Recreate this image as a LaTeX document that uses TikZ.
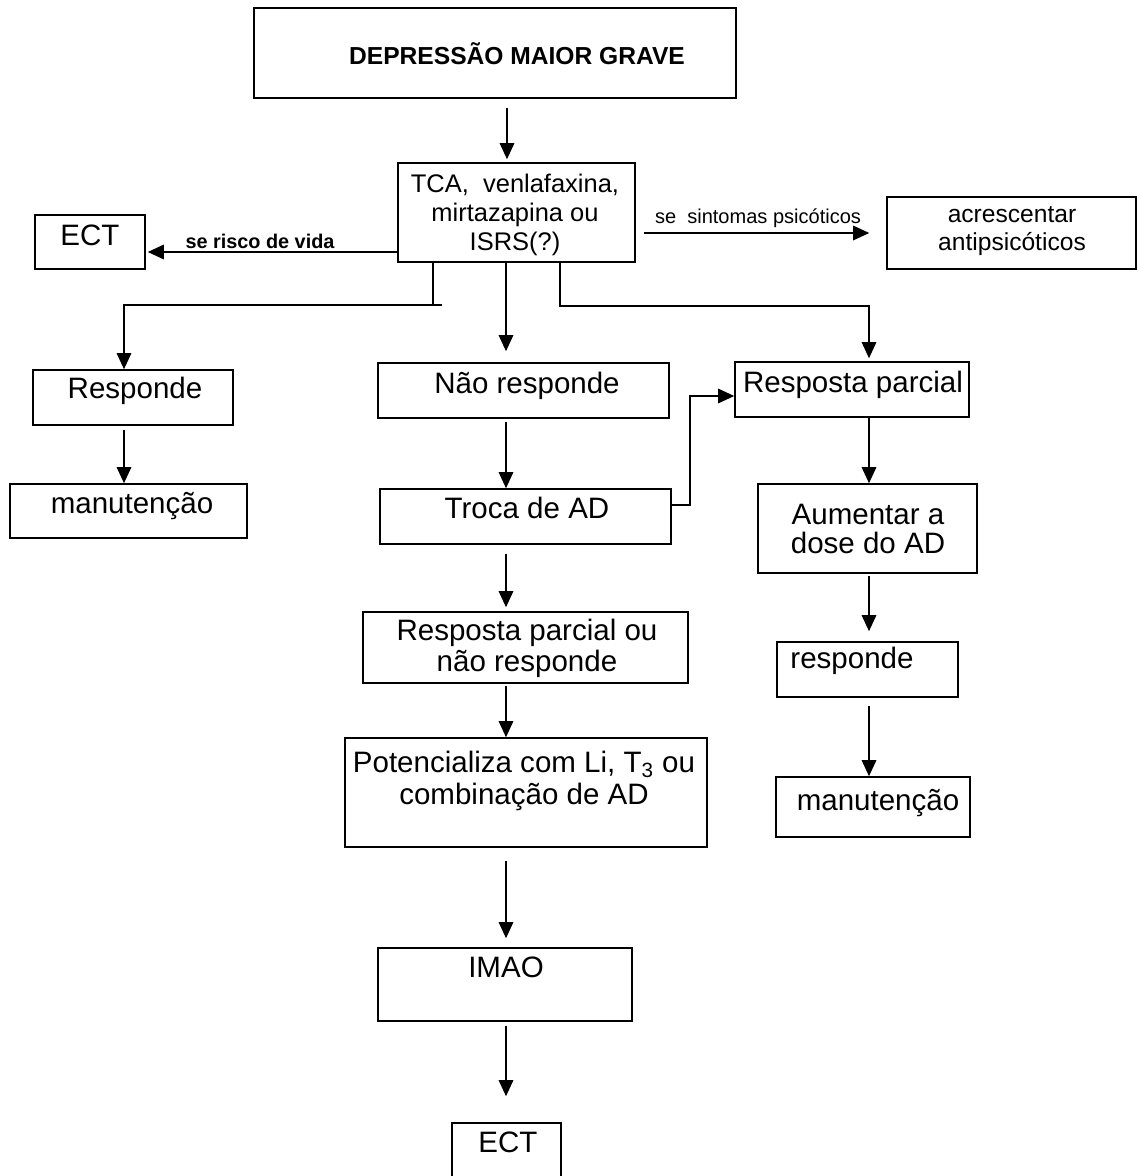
\documentclass[tikz,border=0pt]{standalone}
\usepackage{fontspec}
\setmainfont{Liberation Sans}
\usetikzlibrary{arrows.meta,fit}

\begin{document}
\begin{tikzpicture}[x=0.02cm, y=-0.02cm,
  box/.style={draw, line width=0.9pt, inner sep=0pt},
  txt/.style={inner sep=0pt, align=center, font=\fontsize{16.8}{17.8}\selectfont},
  lin/.style={line width=0.8pt},
  arr/.style={line width=0.8pt, -{Triangle[length=0.32cm,width=0.29cm]}}]

  % Page frame (pixel units, y downwards)
  \useasboundingbox (0,0) rectangle (1138,1176);
  \clip (0,0) rectangle (1138,1176);

  % Define the boxes by their corners
  \foreach \nm/\xo/\yo/\xe/\ye in {
      top/254/8/736/98, tca/398/163/635/262, ectl/35/215/145/269,
      acr/887/197/1136/269, resp/33/370/233/425, manl/10/484/247/538,
      nao/378/363/669/418, rp/735/362/969/417, troca/380/489/671/544,
      aum/758/484/977/573, resp2/777/642/958/697, manr/776/777/970/837,
      rpn/363/612/688/683, pot/345/738/707/847, imao/378/948/632/1021,
      ectb/452/1123/561/1200} {
    \node[box, fit={(\xo,\yo) (\xe,\ye)}] (\nm) {};
  }

  % Texts
  \node[txt, anchor=base, font=\bfseries\fontsize{14}{16}\selectfont] (top-t) at (517,65) {DEPRESSÃO MAIOR GRAVE};
  \node[txt, font=\fontsize{14.5}{16.6}\selectfont] (tca-t) at (515,215) {TCA,~ venlafaxina,\\mirtazapina ou\\ISRS(?)};
  \node[txt, anchor=base] (ectl-t) at (90,245) {ECT};
  \node[txt, anchor=base, font=\bfseries\fontsize{11.3}{13}\selectfont] (risco) at (260,248) {se risco de vida};
  \node[txt, anchor=base, font=\fontsize{11.4}{13}\selectfont] (psic) at (758,223) {se~ sintomas psicóticos};
  \node[txt, font=\fontsize{14}{16}\selectfont] (acr-t) at (1012,231) {acrescentar\\antipsicóticos};
  \node[txt, anchor=base] (resp-t) at (135,398) {Responde};
  \node[txt, anchor=base] (manl-t) at (132,513) {manutenção};
  \node[txt, anchor=base] (nao-t) at (527,393) {Não responde};
  \node[txt, anchor=base] (rp-t) at (853,392) {Resposta parcial};
  \node[txt, anchor=base] (troca-t) at (527,518) {Troca de AD};
  \node[txt, font=\fontsize{16.8}{16.4}\selectfont] (aum-t) at (868,529) {Aumentar a\\dose do AD};
  \node[txt, anchor=base] (resp2-t) at (852,668) {responde};
  \node[txt, anchor=base] (manr-t) at (878,810) {manutenção};
  \node[txt] (rpn-t) at (527,648) {Resposta parcial ou\\não responde};
  \node[txt] (pot-t) at (524,781) {Potencializa com Li, T\textsubscript{3} ou\\combinação de AD};
  \node[txt, anchor=base] (imao-t) at (506,977) {IMAO};
  \node[txt, anchor=base] (ectb-t) at (508,1152) {ECT};

  % Lanes and knees of the connectors
  \coordinate (xa) at (507,0);
  \coordinate (xm) at (506,0);
  \coordinate (xl) at (124,0);
  \coordinate (xr) at (869,0);
  \coordinate (ya) at (0,252);
  \coordinate (yb) at (0,233);
  \coordinate (lk) at (433,306);
  \coordinate (lt) at (442,305);
  \coordinate (rk) at (560,306);
  \coordinate (tk) at (690,505);

  % Draw the connectors
  \draw[arr, shorten <=0.18cm, shorten >=0.06cm] (top.south -| xa) -- (tca.north -| xa);
  \draw[arr, shorten >=0.04cm] (tca.west |- ya) -- (ectl.east |- ya);
  \draw[arr, shorten <=0.16cm, shorten >=0.34cm] (tca.east |- yb) -- (acr.west |- yb);
  \draw[lin] (tca.south -| lk) -- (lk);
  \draw[arr] (lt) -| (resp.north -| xl);
  \draw[arr, shorten >=0.22cm] (tca.south -| xm) -- (nao.north -| xm);
  \draw[arr, shorten >=0.06cm] (tca.south -| rk) -- (rk) -| (rp.north -| xr);
  \draw[arr, shorten <=0.08cm] (resp.south -| xl) -- (manl.north -| xl);
  \draw[arr, shorten <=0.06cm] (nao.south -| xm) -- (troca.north -| xm);
  \draw[arr] (troca.east |- tk) -- (tk) |- ([yshift=-0.13cm]rp.west);
  \draw[arr] (rp.south -| xr) -- (aum.north -| xr);
  \draw[arr, shorten <=0.04cm, shorten >=0.2cm] (aum.south -| xr) -- (resp2.north -| xr);
  \draw[arr, shorten <=0.16cm] (resp2.south -| xr) -- (manr.north -| xr);
  \draw[arr, shorten <=0.18cm, shorten >=0.08cm] (troca.south -| xm) -- (rpn.north -| xm);
  \draw[arr, shorten <=0.04cm] (rpn.south -| xm) -- (pot.north -| xm);
  \draw[arr, shorten <=0.26cm, shorten >=0.18cm] (pot.south -| xm) -- (imao.north -| xm);
  \draw[arr, shorten <=0.08cm, shorten >=0.52cm] (imao.south -| xm) -- (ectb.north -| xm);

\end{tikzpicture}
\end{document}
